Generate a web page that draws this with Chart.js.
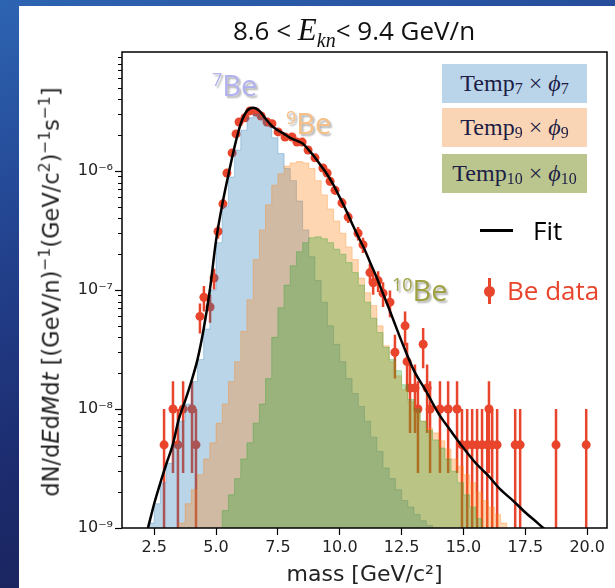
<!DOCTYPE html>
<html>
<head>
<meta charset="utf-8">
<script src="https://cdn.jsdelivr.net/npm/chart.js@4.4.1/dist/chart.umd.min.js"></script>
<style>
  html, body { margin: 0; padding: 0; }
  body {
    width: 615px; height: 588px; overflow: hidden; position: relative;
    background: linear-gradient(165deg, #2d64b2 0%, #22408c 35%, #1c2a6c 65%, #1a2150 100%);
    font-family: 'DejaVu Sans', sans-serif;
  }
  #panel { position: absolute; left: 19px; top: 6px; width: 596px; height: 582px; background: #fff; }
  #chart { position: absolute; left: 0; top: 0; }
  .ov { position: absolute; white-space: nowrap; line-height: 1; }
  .serif { font-family: 'Liberation Serif', 'DejaVu Serif', serif; }
  .iso { font-family: 'Open Sans', sans-serif; font-size: 29px; text-shadow: 2px 2px 2px rgba(0,0,0,0.3); }
  .iso sup { font-size: 18px; vertical-align: 10px; }
  .box {
    position: absolute; left: 442px; width: 145px; height: 39px;
    display: flex; align-items: center; justify-content: center;
    font-family: 'Liberation Serif', serif; font-size: 24px; color: #1d1d45;
  }
  .box sub { font-size: 16px; position: relative; top: 5px; vertical-align: baseline; }
  .ylab sup { font-size: 15.5px; vertical-align: 9px; }
</style>
</head>
<body>
<div id="panel"></div>
<canvas id="chart" width="615" height="588"></canvas>

<div class="ov" style="left:354px; top:32px; transform:translate(-50%,-50%); font-family:'Open Sans',sans-serif; font-size:26px; color:#111;">
  8.6 &lt; <i class="serif" style="font-size:31px;">E</i><sub class="serif" style="font-size:20px; font-style:italic;">kn</sub>&lt; 9.4 GeV/n
</div>

<div class="ov ylab" style="left:50px; top:292px; transform:translate(-50%,-50%) rotate(-90deg); font-size:22.5px; color:#222;">
  dN/d<i>E</i>d<i>M</i>d<i>t</i> [(GeV/n)<sup>&minus;1</sup>(GeV/c<sup>2</sup>)<sup>&minus;1</sup>s<sup>&minus;1</sup>]
</div>

<div class="ov iso" style="left:212px; top:70px; color:#b2b2ef;"><sup>7</sup>Be</div>
<div class="ov iso" style="left:286px; top:108px; color:#f6bf86;"><sup>9</sup>Be</div>
<div class="ov iso" style="left:392px; top:275px; color:#9ea243;"><sup>10</sup>Be</div>

<div class="box" style="top:64px; background:#bad4ea;">Temp<sub>7</sub>&nbsp;×&nbsp;<i>ϕ</i><sub>7</sub></div>
<div class="box" style="top:108px; background:#fad5b5;">Temp<sub>9</sub>&nbsp;×&nbsp;<i>ϕ</i><sub>9</sub></div>
<div class="box" style="top:154px; background:#bac68e;">Temp<sub>10</sub>&nbsp;×&nbsp;<i>ϕ</i><sub>10</sub></div>

<div class="ov" style="left:480px; top:229px; width:33px; height:3px; background:#000;"></div>
<div class="ov" style="left:533px; top:217px; font-family:'Open Sans',sans-serif; font-size:26px; color:#000;">Fit</div>
<div class="ov" style="left:488px; top:278px; width:3px; height:26px; background:#e8452c;"></div>
<div class="ov" style="left:484px; top:286px; width:11px; height:11px; border-radius:50%; background:#e8452c;"></div>
<div class="ov" style="left:507px; top:277px; font-family:'Open Sans',sans-serif; font-size:26px; color:#e8452c;">Be data</div>

<script>
// template histograms, left bin edges start at be*Start, bin width in GeV/c^2
const binWidth = 0.25;
const be7Start = 2.0;
const be7Values = [7.1e-10, 1.1e-9, 1.6e-9, 2.4e-9, 3.5e-9, 5.0e-9, 7.9e-9, 1.1e-8, 1.7e-8, 2.6e-8,
  4.7e-8, 1.0e-7, 2.5e-7, 5.0e-7, 8.9e-7, 1.5e-6, 2.2e-6, 2.8e-6, 3.0e-6, 2.8e-6,
  2.4e-6, 1.9e-6, 1.4e-6, 1.05e-6, 8.3e-7, 5.6e-7, 3.2e-7, 1.9e-7, 1.2e-7, 7.9e-8,
  5.0e-8, 3.5e-8, 2.5e-8, 1.8e-8, 1.35e-8, 1.05e-8, 7.9e-9, 5.8e-9, 4.4e-9, 3.2e-9,
  2.6e-9, 2.1e-9, 1.7e-9, 1.5e-9, 1.3e-9, 1.15e-9, 1.05e-9, 8.9e-10];
const be9Start = 3.25;
const be9Values = [7.9e-10, 1.1e-9, 1.6e-9, 2.1e-9, 2.8e-9, 3.8e-9, 5.2e-9, 7.6e-9, 1.1e-8, 1.7e-8,
  2.5e-8, 4.5e-8, 8.3e-8, 1.8e-7, 3.2e-7, 5.2e-7, 7.6e-7, 9.5e-7, 1.1e-6, 1.17e-6,
  1.2e-6, 1.17e-6, 1.05e-6, 8.3e-7, 6.3e-7, 4.8e-7, 3.8e-7, 3.0e-7, 2.3e-7, 1.8e-7,
  1.26e-7, 9.5e-8, 7.4e-8, 5.0e-8, 3.4e-8, 2.5e-8, 1.9e-8, 1.45e-8, 1.15e-8, 9.3e-9,
  7.9e-9, 6.9e-9, 6.3e-9, 5.4e-9, 4.6e-9, 3.8e-9, 3.3e-9, 2.8e-9, 2.4e-9, 2.0e-9,
  1.7e-9, 1.5e-9, 1.3e-9, 1.1e-9, 8.9e-10];
const be10Start = 5.0;
const be10Values = [8.9e-10, 1.4e-9, 1.9e-9, 2.6e-9, 3.8e-9, 5.2e-9, 7.6e-9, 1.1e-8, 1.8e-8, 4.0e-8,
  7.1e-8, 1.1e-7, 1.6e-7, 2.1e-7, 2.5e-7, 2.75e-7, 2.8e-7, 2.7e-7, 2.5e-7, 2.2e-7,
  2.0e-7, 1.7e-7, 1.4e-7, 1.1e-7, 7.9e-8, 5.8e-8, 4.4e-8, 3.3e-8, 2.6e-8, 2.1e-8,
  1.6e-8, 1.2e-8, 1.0e-8, 7.9e-9, 6.6e-9, 5.5e-9, 4.7e-9, 3.8e-9, 3.0e-9, 2.4e-9,
  1.9e-9, 1.5e-9, 1.2e-9, 8.9e-10];

// fit curve
const fitMass = [2.0, 2.25, 2.5, 2.75, 3.0, 3.25, 3.5, 3.75, 4.0, 4.25, 4.5, 4.75, 5.0, 5.25, 5.5, 5.75,
  6.0, 6.25, 6.5, 6.75, 7.0, 7.25, 7.5, 7.75, 8.0, 8.25, 8.5, 8.75, 9.0, 9.25, 9.5, 9.75,
  10.0, 10.25, 10.5, 10.75, 11.0, 11.25, 11.5, 11.75, 12.0, 12.5, 13.0, 13.5, 14.0, 14.5,
  15.0, 15.5, 16.0, 16.5, 17.0, 17.5, 18.0, 18.5];
const fitValues = [6.3e-10, 1.0e-9, 1.6e-9, 2.4e-9, 3.5e-9, 5.0e-9, 8.3e-9, 1.17e-8, 1.7e-8, 2.6e-8,
  4.7e-8, 1.0e-7, 2.6e-7, 5.2e-7, 9.3e-7, 1.6e-6, 2.5e-6, 3.2e-6, 3.4e-6, 3.2e-6,
  2.75e-6, 2.4e-6, 2.2e-6, 2.05e-6, 1.9e-6, 1.8e-6, 1.7e-6, 1.5e-6, 1.3e-6, 1.1e-6,
  9.3e-7, 7.6e-7, 6.0e-7, 4.7e-7, 3.6e-7, 2.8e-7, 2.2e-7, 1.66e-7, 1.26e-7, 9.3e-8,
  6.9e-8, 3.7e-8, 2.1e-8, 1.4e-8, 9.1e-9, 6.5e-9, 4.7e-9, 3.5e-9, 2.75e-9, 2.1e-9,
  1.7e-9, 1.35e-9, 1.1e-9, 8.9e-10];

// Be data with errors
const dataMass = [2.90, 3.26, 3.46, 3.67, 4.03, 4.19, 4.35, 4.51, 4.76, 4.92,
  5.08, 5.28, 5.44, 5.65, 5.81, 5.93, 6.17, 6.37, 6.62, 6.82,
  7.06, 7.26, 7.51, 7.79, 8.07, 8.27, 8.48, 8.72, 9.00, 9.32,
  9.49, 9.61, 9.81, 10.09, 10.34, 10.74, 10.94, 11.22, 11.35, 11.55,
  11.75, 12.03, 12.23, 12.64, 12.72, 12.84, 13.04, 13.16, 13.37, 13.53,
  13.65, 14.05, 14.38, 14.74, 14.94, 15.15, 15.35, 15.55, 15.75, 15.96,
  16.03, 16.16, 16.36, 17.09, 17.29, 18.74, 19.96];
const dataValues = [5e-9, 1e-8, 5e-9, 1e-8, 1e-8, 5e-9, 6.0e-8, 8.7e-8, 7.2e-8, 1.26e-7,
  3.1e-7, 5.3e-7, 9.6e-7, 1.42e-6, 2.05e-6, 2.58e-6, 2.8e-6, 3.2e-6, 3.13e-6, 2.9e-6,
  2.58e-6, 2.5e-6, 2.13e-6, 1.93e-6, 1.93e-6, 1.75e-6, 1.75e-6, 1.5e-6, 1.29e-6, 1.06e-6,
  9.6e-7, 8.2e-7, 6.9e-7, 5.4e-7, 4.1e-7, 3.0e-7, 2.4e-7, 1.4e-7, 1.15e-7, 1.2e-7,
  9.4e-8, 7.9e-8, 3.0e-8, 5.0e-8, 2.5e-8, 1.5e-8, 1.5e-8, 1e-8, 3.5e-8, 1.5e-8,
  1e-8, 1e-8, 1e-8, 1e-8, 5e-9, 5e-9, 5e-9, 5e-9, 5e-9, 5e-9,
  1e-8, 5e-9, 5e-9, 5e-9, 5e-9, 5e-9, 5e-9];
const dataErrors = [5e-9, 7.1e-9, 5e-9, 7.1e-9, 7.1e-9, 5e-9, 1.7e-8, 2.1e-8, 1.9e-8, 2.5e-8,
  3.9e-8, 5.1e-8, 6.9e-8, 8.4e-8, 1.0e-7, 1.1e-7, 1.2e-7, 1.26e-7, 1.25e-7, 1.2e-7,
  1.1e-7, 1.1e-7, 1.0e-7, 9.8e-8, 9.8e-8, 9.4e-8, 9.4e-8, 8.7e-8, 8.0e-8, 7.3e-8,
  6.9e-8, 6.4e-8, 5.9e-8, 5.2e-8, 4.5e-8, 3.9e-8, 3.5e-8, 2.6e-8, 2.4e-8, 2.4e-8,
  2.2e-8, 2.0e-8, 1.2e-8, 1.6e-8, 1.1e-8, 8.7e-9, 8.7e-9, 7.1e-9, 1.3e-8, 8.7e-9,
  7.1e-9, 7.1e-9, 7.1e-9, 7.1e-9, 5e-9, 5e-9, 5e-9, 5e-9, 5e-9, 5e-9,
  7.1e-9, 5e-9, 5e-9, 5e-9, 5e-9, 5e-9, 5e-9];

// axes
const xTicks = [2.5, 5, 7.5, 10, 12.5, 15, 17.5, 20];
const xTickLabels = ['2.5', '5.0', '7.5', '10.0', '12.5', '15.0', '17.5', '20.0'];
const yMajorTicks = [1e-9, 1e-8, 1e-7, 1e-6];
const yTickLabels = ['10⁻⁹', '10⁻⁸', '10⁻⁷', '10⁻⁶'];

const red = '#e8452c';

function histPoints(start, values) {
  const pts = [{ x: start, y: 1e-12 }];
  values.forEach((v, i) => pts.push({ x: start + i * binWidth, y: v }));
  pts.push({ x: start + values.length * binWidth, y: 1e-12 });
  return pts;
}

function errorBarPoints() {
  const pts = [];
  dataMass.forEach((m, i) => {
    pts.push({ x: m, y: Math.max(dataValues[i] - dataErrors[i], 1e-12) });
    pts.push({ x: m, y: dataValues[i] + dataErrors[i] });
    pts.push({ x: m, y: null });
  });
  return pts;
}

function histDataset(points, color, order) {
  return {
    data: points,
    stepped: 'before',
    fill: 'start',
    backgroundColor: color,
    borderColor: color,
    borderWidth: 1,
    pointRadius: 0,
    clip: 0,
    order: order
  };
}

// minor ticks on the log axis and the box around the axes
const axesFrame = {
  id: 'axesFrame',
  afterDraw(chart) {
    const { ctx, chartArea: a, scales: { y } } = chart;
    ctx.save();
    ctx.strokeStyle = '#000';
    ctx.lineWidth = 1;
    y.ticks.forEach(t => {
      if (t.major) return;
      const py = Math.round(y.getPixelForValue(t.value)) + 0.5;
      ctx.beginPath();
      ctx.moveTo(a.left - 4, py);
      ctx.lineTo(a.left, py);
      ctx.stroke();
    });
    ctx.lineWidth = 1.5;
    ctx.strokeRect(a.left, a.top, a.right - a.left, a.bottom - a.top);
    ctx.restore();
  }
};

const yTicksAll = [];
yMajorTicks.forEach(d => {
  for (let m = 1; m <= 9; m++) yTicksAll.push({ value: m * d, major: m === 1 });
});

new Chart(document.getElementById('chart'), {
  type: 'line',
  data: {
    datasets: [
      {
        data: fitMass.map((m, i) => ({ x: m, y: fitValues[i] })),
        borderColor: '#000',
        borderWidth: 2.5,
        pointRadius: 0,
        cubicInterpolationMode: 'monotone',
        clip: 0,
        order: 0
      },
      histDataset(histPoints(be10Start, be10Values), 'rgba(44, 160, 44, 0.33)', 1),
      histDataset(histPoints(be9Start, be9Values), 'rgba(255, 127, 14, 0.32)', 2),
      histDataset(histPoints(be7Start, be7Values), 'rgba(31, 119, 180, 0.31)', 3),
      {
        data: dataMass.map((m, i) => ({ x: m, y: dataValues[i] })),
        showLine: false,
        pointRadius: 4.5,
        pointBackgroundColor: red,
        pointBorderWidth: 0,
        order: 4
      },
      {
        data: errorBarPoints(),
        borderColor: red,
        borderWidth: 2.5,
        pointRadius: 0,
        spanGaps: false,
        clip: 0,
        order: 5
      }
    ]
  },
  options: {
    responsive: false,
    animation: false,
    devicePixelRatio: 1,
    layout: { padding: { left: 0, top: 52, right: 8, bottom: 0 } },
    plugins: { legend: { display: false }, tooltip: { enabled: false } },
    scales: {
      x: {
        type: 'linear',
        min: 1.2,
        max: 20.8,
        afterBuildTicks: s => { s.ticks = xTicks.map(v => ({ value: v })); },
        afterFit: s => { s.height = 60; },
        border: { display: false },
        grid: { drawOnChartArea: false, drawTicks: true, tickLength: 7, tickColor: '#000', tickWidth: 1.2 },
        ticks: {
          autoSkip: false, maxRotation: 0, padding: 3, color: '#222',
          font: { family: 'DejaVu Sans', size: 16 },
          callback: (v, i) => xTickLabels[i]
        },
        title: {
          display: true, text: 'mass [GeV/c²]', color: '#222',
          font: { family: 'DejaVu Sans', size: 22 },
          padding: { top: 0, bottom: 0 }
        }
      },
      y: {
        type: 'logarithmic',
        min: 1e-9,
        max: 1e-5,
        afterBuildTicks: s => { s.ticks = yTicksAll.map(t => ({ value: t.value, major: t.major })); },
        afterFit: s => { s.width = 122; },
        border: { display: false },
        grid: {
          drawOnChartArea: false, drawTicks: true, tickLength: 7, tickWidth: 1.2,
          tickColor: c => (c.tick && c.tick.major ? '#000' : 'rgba(0,0,0,0)')
        },
        ticks: {
          autoSkip: false, padding: 2, color: '#222',
          font: { family: 'DejaVu Sans', size: 16 },
          callback: v => {
            const i = yMajorTicks.findIndex(t => Math.abs(t - v) / t < 1e-6);
            return i >= 0 ? yTickLabels[i] : '';
          }
        }
      }
    }
  },
  plugins: [axesFrame]
});
</script>
</body>
</html>
